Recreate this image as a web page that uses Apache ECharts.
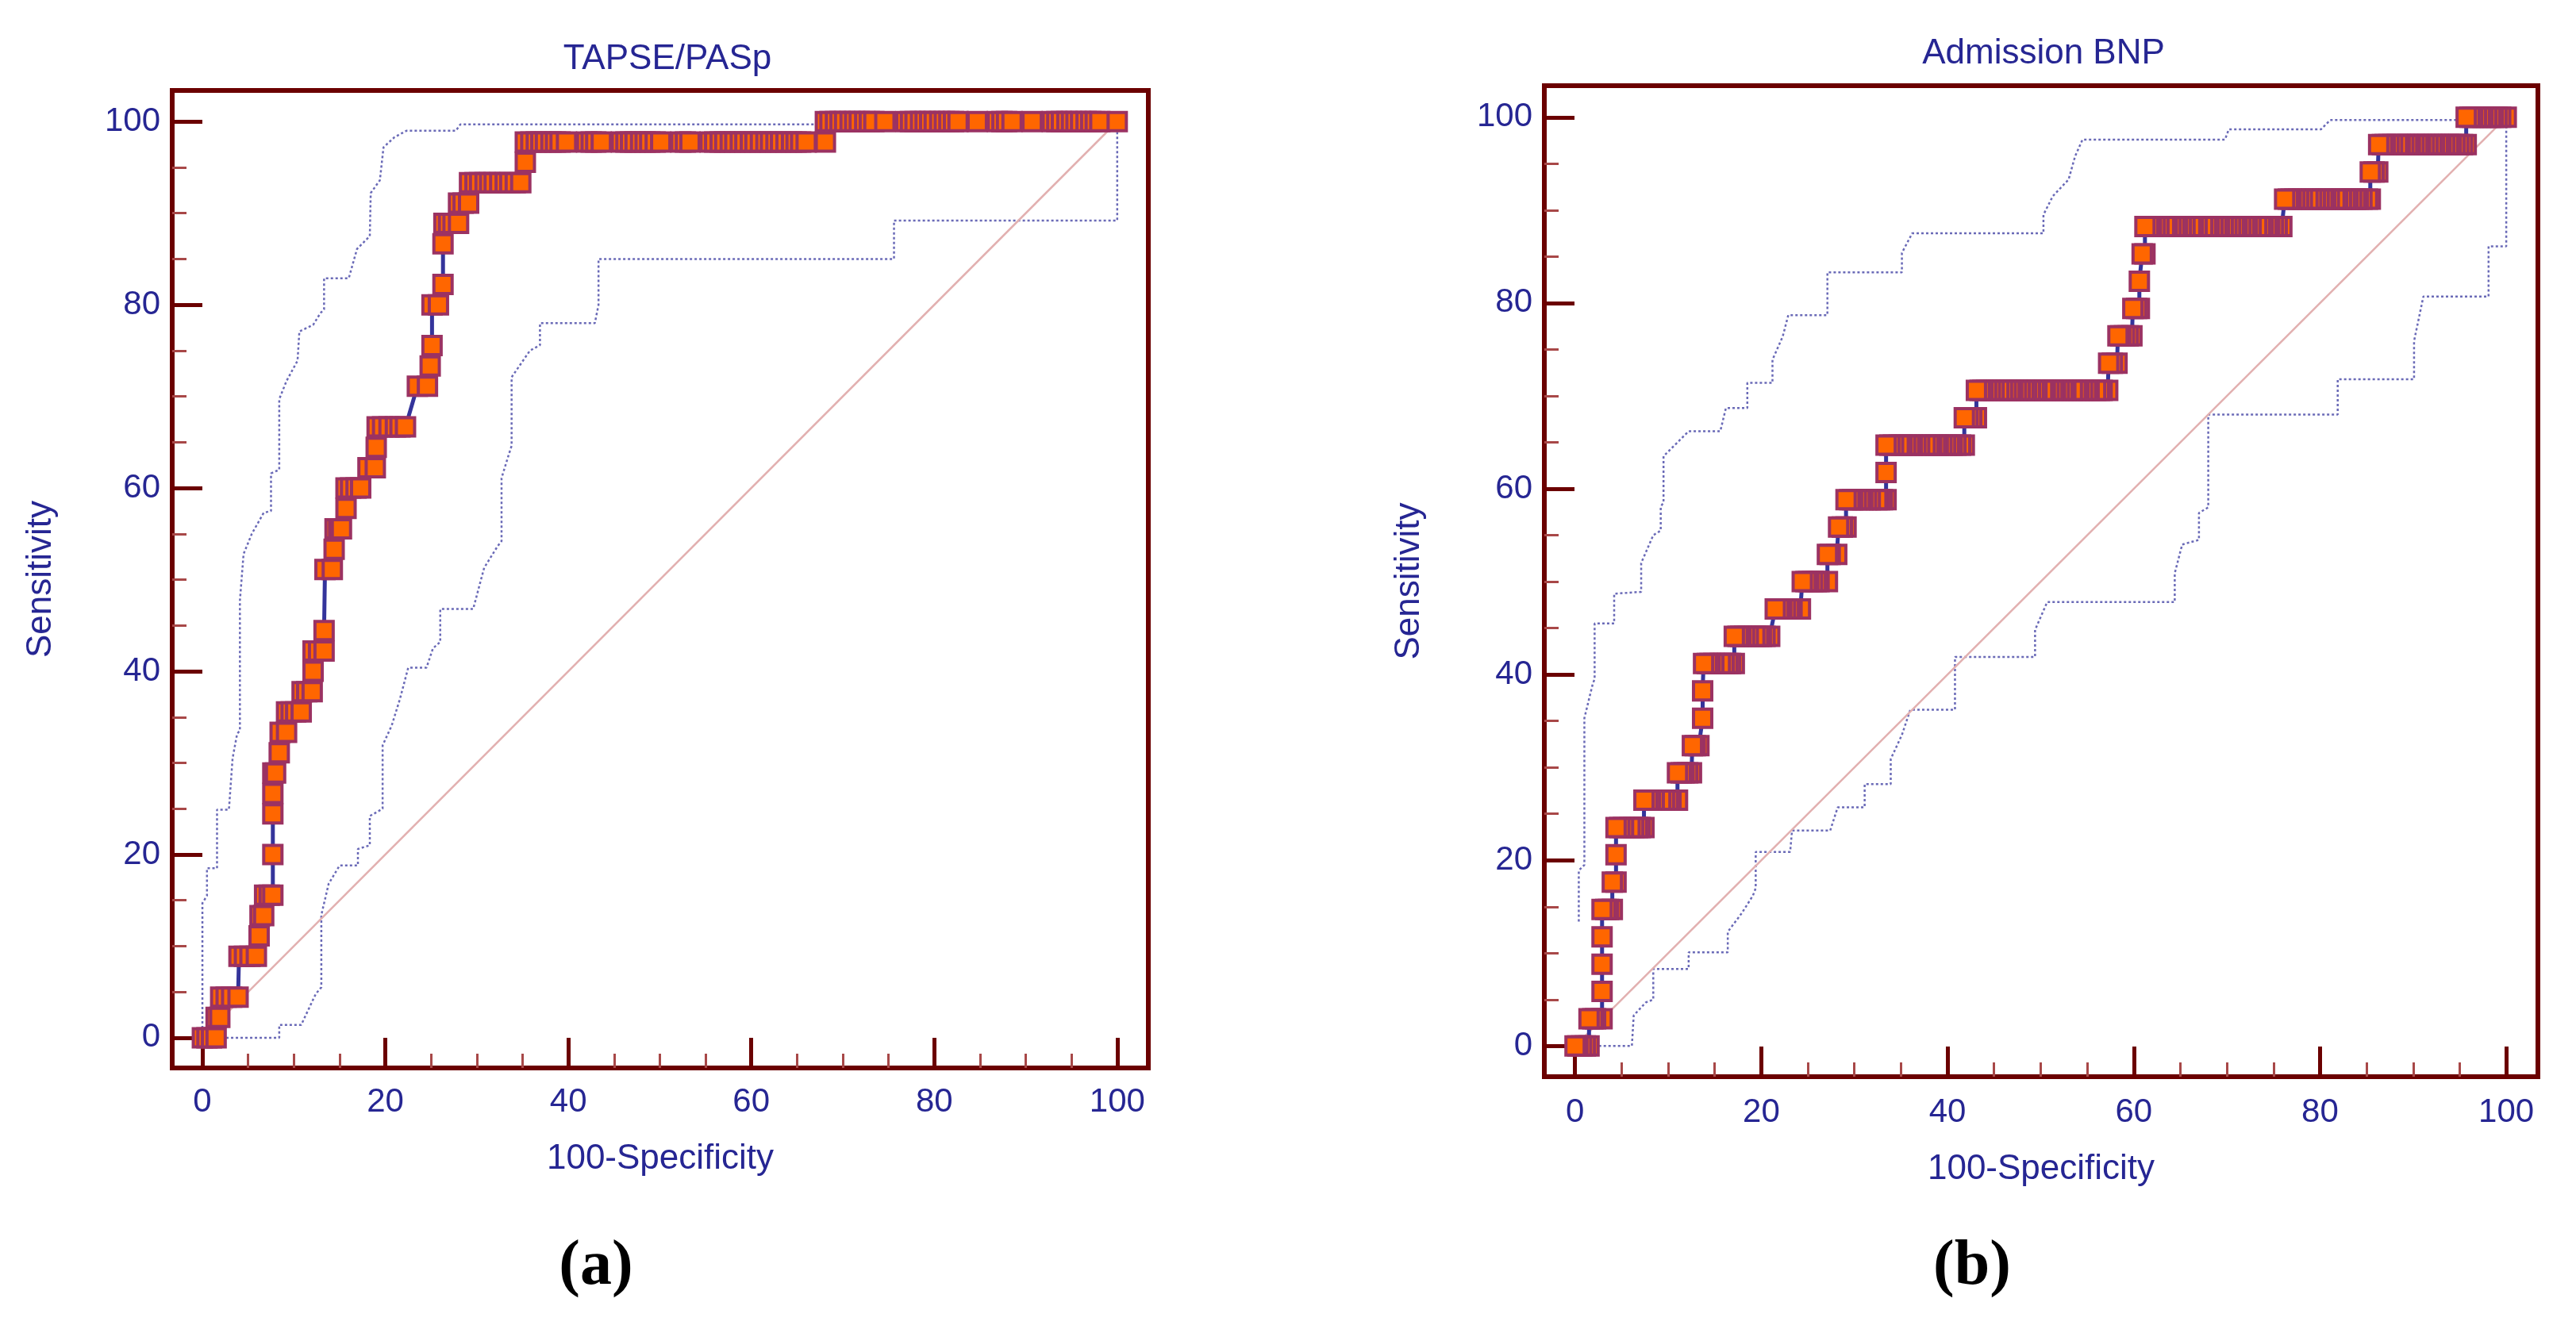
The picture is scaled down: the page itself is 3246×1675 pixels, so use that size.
<!DOCTYPE html>
<html>
<head>
<meta charset="utf-8">
<title>ROC curves</title>
<script src="https://cdn.jsdelivr.net/npm/echarts@6/dist/echarts.min.js"></script>
<style>
html, body { margin: 0; padding: 0; background: #ffffff; }
#chart { width: 3246px; height: 1675px; }
</style>
</head>
<body>
<div id="chart"></div>
<script>
// tick values of both plots
var majorTicks = [0, 20, 40, 60, 80, 100];
var minorTicks = [5, 10, 15, 25, 30, 35, 45, 50, 55, 65, 70, 75, 85, 90, 95];
var diagonal = [[0, 0], [100, 100]];

// (a) TAPSE/PASp : sensitivity levels and the 100-specificity values read at each level
var tapseSens = [0, 2.22, 4.44, 8.89, 11.11, 13.33, 15.56, 20, 24.44, 26.67, 28.89, 31.11, 33.33,
  35.56, 37.78, 40, 42.22, 44.44, 51.11, 53.33, 55.56, 57.78, 60, 62.22, 64.44, 66.67, 71.11,
  73.33, 75.56, 80, 82.22, 86.67, 88.89, 91.11, 93.33, 95.56, 97.78, 100];
var tapseFpr = [
  [0, 0.5, 1.0, 1.5], [1.5, 1.9], [2.0, 2.6, 3.2, 3.9], [4.0, 4.6, 5.2, 5.9], [6.2], [6.3, 6.7],
  [6.8, 7.3, 7.7], [7.7], [7.7], [7.7], [7.7, 8.0], [8.4], [8.5, 9.2], [9.2, 9.7, 10.2, 10.8],
  [10.9, 11.4, 12.0], [12.1], [12.1, 12.7, 13.3], [13.3], [13.4, 14.2], [14.4], [14.5, 14.9, 15.2],
  [15.7], [15.7, 16.2, 16.8, 17.3], [18.1, 18.9], [19.0], [19.1, 19.7, 20.4, 21.1, 21.6, 22.2],
  [23.5, 24.6], [24.9], [25.1], [25.1, 25.8], [26.3], [26.3], [26.4, 26.9, 27.4, 28.0],
  [28.0, 28.5, 29.1], [29.2, 29.8, 30.3, 30.9, 31.4, 31.9, 32.5, 33.1, 33.6, 34.2, 34.8], [35.3],
  [35.3, 35.9, 36.5, 37.0, 37.5, 38.1, 38.6, 39.1, 39.8, 42.0, 42.5, 43.0, 43.6, 45.8, 46.3, 46.8,
   47.3, 47.9, 48.4, 48.9, 49.5, 50.1, 52.3, 52.8, 53.3, 55.5, 56.0, 56.6, 57.1, 57.7, 58.2, 58.8,
   59.3, 59.9, 60.4, 61.0, 61.6, 62.1, 62.7, 63.2, 63.8, 64.4, 64.9, 65.4, 66.0, 68.1],
  [68.1, 68.6, 69.2, 69.7, 70.2, 70.8, 71.3, 71.8, 72.4, 72.9, 73.4, 74.6, 76.9, 77.4, 77.9, 78.5,
   79.0, 79.5, 80.0, 80.6, 81.1, 81.6, 82.1, 82.6, 84.7, 86.9, 87.4, 87.9, 88.5, 90.7, 92.9, 93.4,
   93.9, 94.5, 95.0, 95.5, 96.0, 96.6, 97.1, 97.6, 98.1, 100]
];
var tapseUpper = [[0, 0], [0, 14.7], [0.5, 15.5], [0.5, 18.5], [1.6, 18.5], [1.6, 24.9], [2.9, 24.9],
  [3.3, 30.5], [3.8, 33.2], [4.1, 33.5], [4.1, 47.7], [4.5, 52.8], [5.4, 55], [6.7, 57.3], [7.5, 57.5],
  [7.5, 61.6], [8.4, 62], [8.4, 69.7], [9.2, 71.7], [10.4, 73.9], [10.6, 77.1], [12.1, 77.8],
  [12.9, 79.1], [13.3, 79.5], [13.3, 82.9], [16, 82.9], [16.9, 86.1], [18.3, 87.5], [18.4, 92.2],
  [19.4, 93.6], [19.8, 97.2], [21, 98.3], [22.3, 99], [27.7, 99], [28.2, 99.7], [67.5, 99.7],
  [68, 100], [100, 100]];
var tapseLower = [[0, 0], [8.4, 0], [8.4, 1.4], [10.8, 1.4], [12.4, 4.8], [13, 5.5], [13, 13.4],
  [13.8, 16.8], [15, 18.8], [17, 18.8], [17, 20.6], [18.3, 21], [18.3, 24.2], [19.7, 25], [19.7, 31.9],
  [20.7, 34.1], [21.6, 37], [22.5, 40.4], [24.5, 40.4], [25.2, 42.5], [26, 43.2], [26, 46.8],
  [29.6, 46.8], [30.8, 51.3], [32.3, 53.7], [32.7, 54.2], [32.7, 61.1], [33.6, 64], [33.8, 64.6],
  [33.8, 72.1], [35.8, 75], [36.9, 75.6], [36.9, 78], [42.9, 78], [43.3, 80], [43.3, 85], [75.6, 85],
  [75.6, 89.2], [100, 89.2], [100, 100]];

// (b) Admission BNP
var bnpSens = [0, 2.94, 5.88, 8.82, 11.76, 14.71, 17.65, 20.59, 23.53, 26.47, 29.41, 32.35, 35.29,
  38.24, 41.18, 44.12, 47.06, 50, 52.94, 55.88, 58.82, 61.76, 64.71, 67.65, 70.59, 73.53, 76.47,
  79.41, 82.35, 85.29, 88.24, 91.18, 94.12, 97.06, 100];
var bnpFpr = [
  [0, 0.3, 0.7, 1.1, 1.5], [1.5, 1.9, 2.2, 2.9], [2.9], [2.9], [2.9], [2.9, 3.3, 3.6, 4.0], [4.0, 4.4],
  [4.4], [4.4, 4.8, 5.2, 5.9, 6.3, 6.7, 7.0, 7.4], [7.4, 7.8, 8.1, 8.5, 9.2, 9.6, 10.0, 10.3, 11.0],
  [11.0, 11.4, 11.7, 12.1, 12.5], [12.6, 12.9, 13.3], [13.7], [13.7],
  [13.8, 14.2, 14.5, 14.9, 15.6, 16.0, 16.4, 16.7, 17.1],
  [17.1, 17.5, 17.8, 18.2, 18.6, 19.3, 19.7, 20.0, 20.4, 20.9],
  [21.5, 21.9, 22.2, 22.6, 23.0, 23.3, 24.2], [24.4, 24.8, 25.1, 25.5, 25.9, 26.2, 27.1],
  [27.1, 27.4, 28.1], [28.3, 28.7, 29.1],
  [29.1, 29.5, 29.8, 30.2, 30.6, 30.9, 31.3, 31.7, 32.4, 32.7, 33.0, 33.4], [33.4],
  [33.4, 33.8, 34.2, 34.8, 35.1, 35.5, 35.9, 36.2, 36.6, 37.0, 37.6, 38.0, 38.3, 38.7, 39.0, 39.4,
   39.8, 40.2, 40.5, 40.9, 41.4, 41.8],
  [41.8, 42.2, 42.6, 43.1],
  [43.1, 43.5, 43.8, 44.2, 44.6, 45.0, 45.5, 45.9, 46.3, 46.7, 47.0, 47.4, 47.8, 48.2, 48.5, 48.9,
   49.3, 49.6, 50.2, 50.5, 50.9, 51.3, 51.6, 52.0, 52.4, 52.7, 53.4, 53.8, 54.1, 54.5, 54.9, 55.2,
   55.9, 56.3, 56.6, 57.2],
  [57.3, 57.7, 58.2], [58.3, 58.6, 59.0, 59.4, 59.8], [59.9, 60.3, 60.6], [60.6], [60.9, 61.2],
  [61.2, 61.6, 61.9, 62.3, 62.7, 63.3, 63.6, 64.0, 64.4, 64.7, 65.1, 65.5, 66.1, 66.4, 66.8, 67.4,
   67.8, 68.1, 68.5, 68.9, 69.2, 69.6, 70.0, 70.4, 70.8, 71.1, 71.5, 71.9, 72.2, 72.6, 73.2, 73.6,
   73.9, 74.3, 74.6, 75.0, 75.4, 75.9],
  [76.2, 76.6, 76.9, 77.3, 77.7, 78.1, 78.7, 79.1, 79.5, 79.9, 80.3, 80.6, 81.0, 81.6, 81.9, 82.3,
   82.7, 83.0, 83.4, 83.8, 84.1, 84.5, 85.1, 85.4],
  [85.4, 85.8, 86.2],
  [86.3, 86.7, 87.0, 87.4, 87.8, 88.3, 88.6, 89.0, 89.4, 89.7, 90.1, 90.5, 90.8, 91.2, 91.6, 92.0,
   92.3, 92.7, 93.0, 93.4, 93.8, 94.1, 94.5, 94.9, 95.3, 95.7],
  [95.7, 96.1, 96.4, 96.8, 97.2, 97.5, 97.9, 98.3, 98.6, 99.0, 99.4, 100]
];
var bnpUpper = [[0.4, 13.4], [0.4, 18.9], [1.0, 19.5], [1.0, 35.3], [1.9, 39], [2.1, 39.5], [2.1, 45.5],
  [4.2, 45.5], [4.2, 48.7], [7.1, 48.9], [7.1, 52], [8.4, 55], [9.2, 55.5], [9.2, 58.1], [9.5, 58.5],
  [9.5, 63.5], [12.2, 66.2], [15.6, 66.2], [16.2, 68.7], [18.5, 68.7], [18.5, 71.4], [21.2, 71.4],
  [21.2, 73.9], [22.3, 76.4], [22.9, 78.7], [27.1, 78.7], [27.1, 83.3], [35.1, 83.3], [35.1, 85.4],
  [36.2, 87.5], [50.3, 87.5], [50.3, 89.5], [51.3, 91.5], [53, 93.3], [53.7, 95.8], [54.5, 97.6],
  [69.8, 97.6], [70.2, 98.7], [80.1, 98.7], [81.1, 99.7], [94.6, 99.7], [95.5, 100], [100, 100]];
var bnpLower = [[0, 0], [6.1, 0], [6.3, 3.3], [7.6, 4.7], [8.4, 5], [8.4, 8.3], [12.2, 8.3], [12.2, 10.1],
  [16.4, 10.1], [16.4, 12.3], [17.9, 14.3], [19.1, 16.2], [19.4, 17], [19.4, 20.9], [23.1, 20.9],
  [23.3, 23.2], [27.4, 23.2], [28.2, 25.7], [31.1, 25.7], [31.1, 28.2], [33.9, 28.2], [33.9, 30.9],
  [35.1, 33.5], [36, 36.2], [40.8, 36.2], [40.8, 41.9], [49.4, 41.9], [49.4, 44.8], [50.7, 47.8],
  [64.4, 47.8], [64.4, 50.9], [65.2, 54], [67, 54.5], [67, 57.4], [68, 58], [68, 68], [81.9, 68],
  [81.9, 71.8], [90.1, 71.8], [90.1, 75.9], [91.1, 80.7], [98.1, 80.7], [98.1, 86.1], [100, 86.1],
  [100, 100]];

var navy = '#262693';
var frameColor = '#6b0000';
var sansFont = "'Liberation Sans', Arial, Helvetica, sans-serif";
var serifFont = "'Liberation Serif', 'Times New Roman', serif";
var axisMin = -3.3, axisMax = 103.4;

function buildPoints(sens, runs) {
  var pts = [];
  for (var i = 0; i < sens.length; i++) {
    for (var j = 0; j < runs[i].length; j++) {
      pts.push([runs[i][j], sens[i]]);
    }
  }
  return pts;
}

// two axes per direction: one for the short minor ticks, one for major ticks + labels
function axisPair(g, pos, name, nameGap, labelMargin) {
  var minor = {
    type: 'value', gridIndex: g, position: pos, min: axisMin, max: axisMax,
    axisLine: { show: false, onZero: false }, splitLine: { show: false }, axisLabel: { show: false },
    axisTick: { show: true, inside: true, length: 18, customValues: minorTicks,
      lineStyle: { color: '#a84848', width: 3 } }
  };
  var major = {
    type: 'value', gridIndex: g, position: pos, min: axisMin, max: axisMax,
    name: name, nameLocation: 'middle', nameGap: nameGap,
    nameTextStyle: { color: navy, fontSize: 44, fontFamily: sansFont },
    axisLine: { show: false, onZero: false }, splitLine: { show: false },
    axisTick: { show: true, inside: true, length: 38, customValues: majorTicks,
      lineStyle: { color: frameColor, width: 5 } },
    axisLabel: { customValues: majorTicks, margin: labelMargin, color: navy, fontSize: 42,
      fontFamily: sansFont }
  };
  return [minor, major];
}

function ciSeries(axisIdx, data) {
  return {
    type: 'line', xAxisIndex: axisIdx, yAxisIndex: axisIdx, data: data, showSymbol: false,
    silent: true, z: 2,
    lineStyle: { color: '#5050aa', width: 2.5, type: [3, 3], opacity: 0.85 }
  };
}

function diagSeries(axisIdx) {
  return {
    type: 'line', xAxisIndex: axisIdx, yAxisIndex: axisIdx, data: diagonal, showSymbol: false,
    silent: true, z: 2, lineStyle: { color: '#e2b0b0', width: 2.5 }
  };
}

function rocSeries(axisIdx, data) {
  return {
    type: 'line', xAxisIndex: axisIdx, yAxisIndex: axisIdx, data: data,
    showSymbol: true, showAllSymbol: true, symbol: 'rect', symbolSize: 23,
    silent: true, z: 3, emphasis: { disabled: true },
    itemStyle: { color: '#ff6600', borderColor: '#9b3262', borderWidth: 4 },
    lineStyle: { color: '#34349b', width: 5 }
  };
}

var tapsePoints = buildPoints(tapseSens, tapseFpr);
// the BNP curve is plotted from the top end, so the left marker of each run sits on top
var bnpPoints = buildPoints(bnpSens, bnpFpr).reverse();

var xAxes = axisPair(0, 'bottom', '100-Specificity', 93, 22)
  .concat(axisPair(1, 'bottom', '100-Specificity', 95, 24));
var yAxes = axisPair(0, 'left', 'Sensitivity', 143, 15)
  .concat(axisPair(1, 'left', 'Sensitivity', 148, 15));

var chart = echarts.init(document.getElementById('chart'));
chart.setOption({
  backgroundColor: '#ffffff',
  animation: false,
  title: [
    { text: 'TAPSE/PASp', left: 836, top: 48, textAlign: 'center',
      textStyle: { color: navy, fontSize: 44, fontWeight: 'normal', fontFamily: sansFont } },
    { text: 'Admission BNP', left: 2570, top: 41, textAlign: 'center',
      textStyle: { color: navy, fontSize: 44, fontWeight: 'normal', fontFamily: sansFont } },
    { text: '{p|(}{b|a}{p|)}', left: 746, top: 1552, textAlign: 'center',
      textStyle: { rich: {
        p: { fontFamily: serifFont, fontSize: 80, color: '#000000' },
        b: { fontFamily: serifFont, fontSize: 80, fontWeight: 'bold', color: '#000000' } } } },
    { text: '{p|(}{b|b}{p|)}', left: 2480, top: 1552, textAlign: 'center',
      textStyle: { rich: {
        p: { fontFamily: serifFont, fontSize: 80, color: '#000000' },
        b: { fontFamily: serifFont, fontSize: 80, fontWeight: 'bold', color: '#000000' } } } }
  ],
  grid: [
    { left: 217, top: 114, width: 1230, height: 1232, show: true,
      borderColor: frameColor, borderWidth: 6, backgroundColor: 'transparent' },
    { left: 1946, top: 108, width: 1252, height: 1249, show: true,
      borderColor: frameColor, borderWidth: 6, backgroundColor: 'transparent' }
  ],
  xAxis: xAxes,
  yAxis: yAxes,
  series: [
    ciSeries(1, tapseUpper), ciSeries(1, tapseLower), diagSeries(1), rocSeries(1, tapsePoints),
    ciSeries(3, bnpUpper), ciSeries(3, bnpLower), diagSeries(3), rocSeries(3, bnpPoints)
  ]
});
</script>
</body>
</html>
